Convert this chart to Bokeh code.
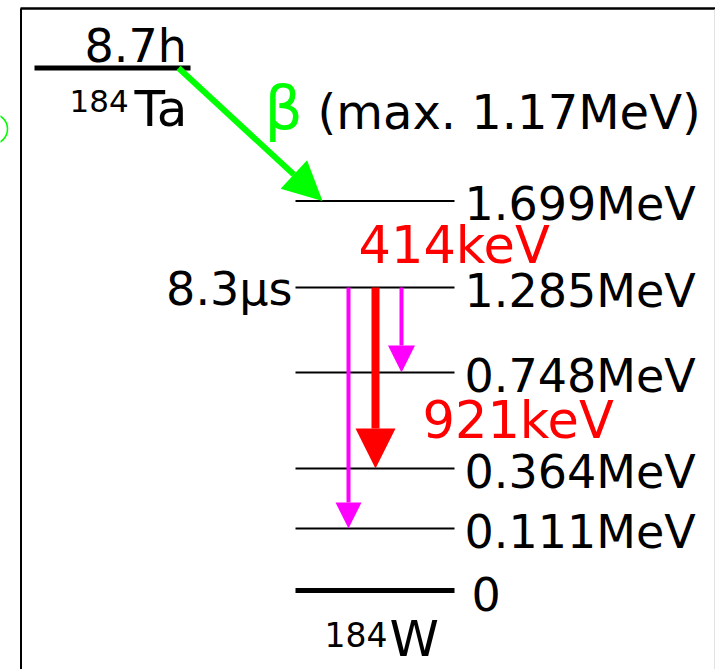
from bokeh.plotting import figure
from bokeh.models import Range1d, Arrow, NormalHead, ColumnDataSource
from bokeh.core.properties import value
from bokeh.embed import file_html
from bokeh.resources import INLINE

# ---------------- data ----------------
parent_mass = "184"
parent_symbol = "Ta"
parent_halflife = "8.7h"
daughter_mass = "184"
daughter_symbol = "W"

level_energy = [0.0, 0.111, 0.364, 0.748, 1.285, 1.699]          # MeV
level_label = ["0", "0.111MeV", "0.364MeV", "0.748MeV", "1.285MeV", "1.699MeV"]

isomer_energy = 1.285
isomer_halflife = "8.3μs"

beta_symbol = "β"
beta_text = "(max. 1.17MeV)"
beta_to_energy = 1.699

gamma_from = [1.285, 1.285, 1.285]
gamma_to = [0.364, 0.748, 0.111]
gamma_color = ["#ff0000", "#ff00ff", "#ff00ff"]

energy_labels = ["414keV", "921keV"]

# ---------------- layout (schematic positions) ----------------
level_slot = {0.0: 590.0, 0.111: 528.0, 0.364: 468.0, 0.748: 372.0, 1.285: 287.0, 1.699: 200.5}
parent_slot = 67.5
level_x0, level_x1 = 295, 454
gamma_lane = [375, 401, 348]
gamma_width = [8, 4, 4]
gamma_head = [40, 27, 26]

FONT = value("DejaVu Sans")


def base(y, fs):
    # place the alphabetic baseline of text of size fs at screen row y
    return y - 0.37 * fs


p = figure(width=715, height=669, x_range=Range1d(0, 715), y_range=Range1d(669, 0),
           output_backend="svg", toolbar_location=None, min_border=0,
           x_axis_location=None, y_axis_location=None,
           outline_line_color=None, background_fill_color="white",
           border_fill_color="white")
p.grid.visible = False

# frame
p.line([20.5, 20.5], [8, 669], line_color="black", line_width=2)
p.line([20, 715], [8, 8], line_color="black", line_width=2.5)
p.line([714, 714], [9, 669], line_color="#e2e2e2", line_width=1)
p.ellipse(x=[-8], y=[128.5], width=[30], height=[30], fill_color=None,
          line_color="#00ff00", line_width=1.6)

# daughter levels
ys = [level_slot[e] for e in level_energy]
widths = [5 if e == 0 else 1.8 for e in level_energy]
src = ColumnDataSource(dict(x0=[level_x0] * len(ys), x1=[level_x1] * len(ys), y=ys, w=widths))
p.segment(x0="x0", y0="y", x1="x1", y1="y", line_width="w", line_color="black", source=src)

label_x = [471 if lab == "0" else 464 for lab in level_label]
p.text(x=label_x, y=[base(y + 20.5, 46) for y in ys], text=level_label, text_font=FONT,
       text_font_size="46px", text_color="black", text_baseline="alphabetic", text_align="left")

# parent level
p.segment(x0=[34], y0=[parent_slot], x1=[190], y1=[parent_slot], line_width=5, line_color="black")
p.text(x=[84], y=[base(63, 46)], text=[parent_halflife], text_font=FONT, text_font_size="46px",
       text_color="black", text_baseline="alphabetic")
p.text(x=[69], y=[base(112, 31)], text=[parent_mass], text_font=FONT, text_font_size="31px",
       text_color="black", text_baseline="alphabetic")
p.text(x=[134], y=[base(127, 50)], text=[parent_symbol], text_font=FONT, text_font_size="50px",
       text_color="black", text_baseline="alphabetic")

# daughter name
p.text(x=[324], y=[base(646, 33)], text=[daughter_mass], text_font=FONT, text_font_size="33px",
       text_color="black", text_baseline="alphabetic")
p.text(x=[389], y=[base(657, 50)], text=[daughter_symbol], text_font=FONT, text_font_size="50px",
       text_color="black", text_baseline="alphabetic")

# isomer half-life
p.text(x=[292], y=[base(level_slot[isomer_energy] + 19, 46)], text=[isomer_halflife], text_font=FONT,
       text_font_size="46px", text_color="black", text_baseline="alphabetic", text_align="right")

# beta decay arrow
p.add_layout(Arrow(x_start=178, y_start=parent_slot, x_end=322, y_end=level_slot[beta_to_energy],
                   line_color="#00ff00", line_width=6,
                   end=NormalHead(size=39, fill_color="#00ff00", line_color=None)))
p.text(x=[264], y=[base(130, 60)], text=[beta_symbol], text_font=FONT, text_font_size="60px",
       text_color="#00ff00", text_baseline="alphabetic")
p.text(x=[317], y=[base(129, 48)], text=[beta_text], text_font=FONT, text_font_size="48px",
       text_color="black", text_baseline="alphabetic")

# gamma arrows
for f, t, c, xl, w, hs in zip(gamma_from, gamma_to, gamma_color, gamma_lane, gamma_width, gamma_head):
    p.add_layout(Arrow(x_start=xl, y_start=level_slot[f], x_end=xl, y_end=level_slot[t],
                       line_color=c, line_width=w,
                       end=NormalHead(size=hs, fill_color=c, line_color=None)))

# gamma energy labels
p.text(x=[358, 422], y=[base(264, 51), base(439, 51)], text=energy_labels, text_font=FONT,
       text_font_size="51px", text_color="#ff0000", text_baseline="alphabetic")

open("out.html", "w").write(file_html(p, INLINE))
